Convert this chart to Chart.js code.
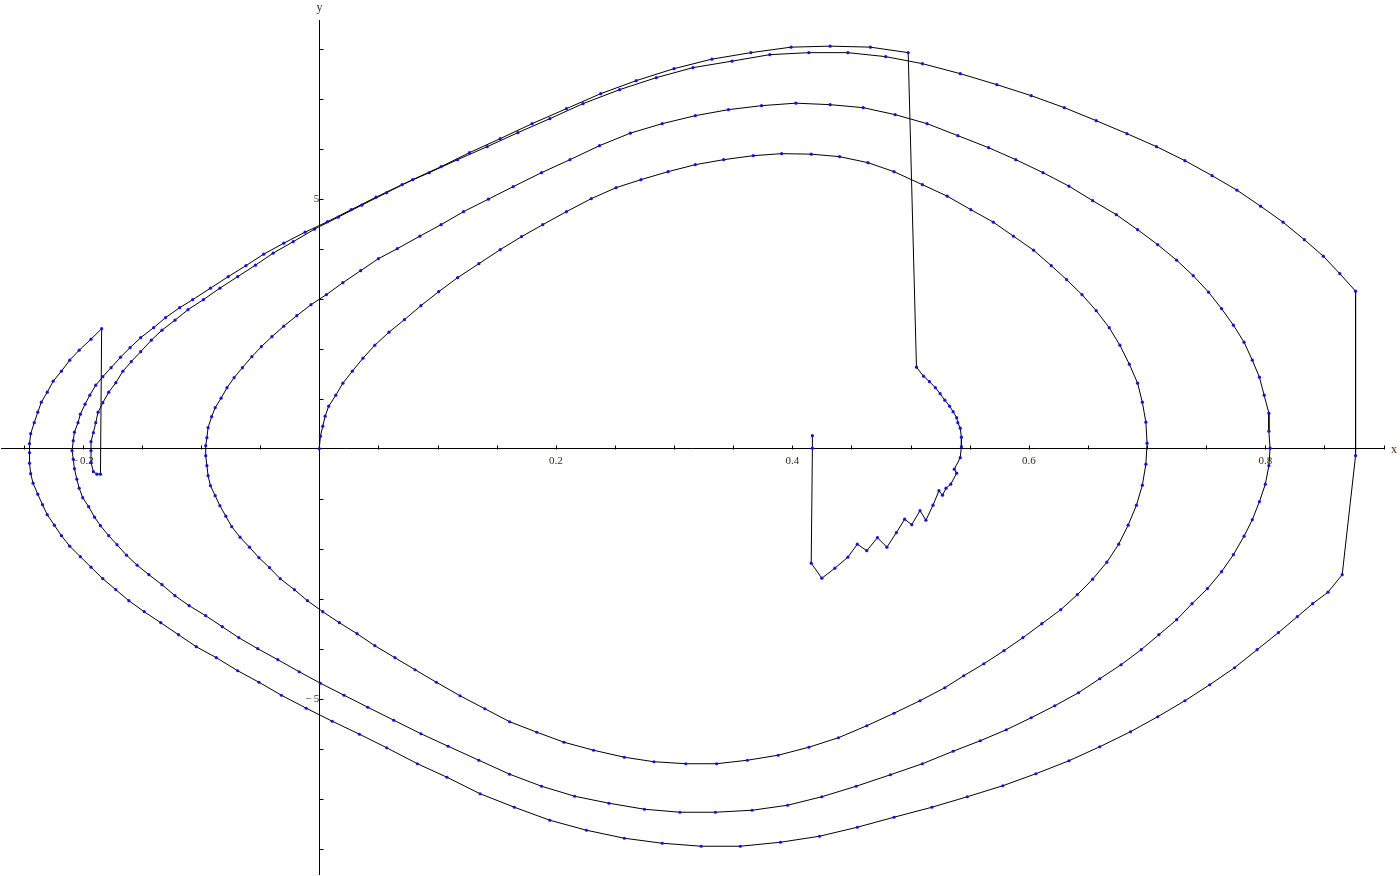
<!DOCTYPE html>
<html>
<head>
<meta charset="utf-8">
<script src="https://cdn.jsdelivr.net/npm/chart.js@4"></script>
<style>
  html, body { margin: 0; padding: 0; background: #fff; }
  canvas { display: block; }
</style>
</head>
<body>
<canvas id="chart" width="1400" height="876"></canvas>
<script>
// trajectory pieces [x, y], in the order they are traced
const innerLoop = [
  [0,0],[0.001,0.25],[0.003,0.45],[0.005,0.65],[0.008,0.85],[0.014,1.07],[0.020,1.31],[0.028,1.55],
  [0.037,1.81],[0.047,2.07],[0.059,2.33],[0.072,2.58],[0.086,2.86],[0.101,3.14],[0.117,3.42],[0.135,3.70],
  [0.153,3.98],[0.171,4.24],[0.189,4.48],[0.209,4.74],[0.230,5.00],[0.251,5.22],[0.272,5.38],[0.295,5.54],
  [0.318,5.68],[0.342,5.78],[0.367,5.86],[0.391,5.90],[0.416,5.89],[0.440,5.84],[0.464,5.72],[0.486,5.54],
  [0.510,5.28],[0.531,5.05],[0.551,4.78],[0.570,4.53],[0.587,4.25],[0.604,3.97],[0.619,3.66],[0.632,3.38],
  [0.645,3.08],[0.657,2.76],[0.668,2.42],[0.677,2.07],[0.685,1.69],[0.692,1.31],[0.696,0.93],[0.699,0.53],
  [0.700,0.11],[0.699,-0.31],[0.696,-0.73],[0.691,-1.13],[0.684,-1.53],[0.676,-1.91],[0.666,-2.27],[0.654,-2.61],
  [0.641,-2.92],[0.627,-3.22],[0.611,-3.50],[0.595,-3.78],[0.579,-4.04],[0.562,-4.30],[0.545,-4.54],[0.529,-4.78],
  [0.508,-5.04],[0.486,-5.29],[0.463,-5.54],[0.439,-5.78],[0.414,-5.97],[0.388,-6.13],[0.362,-6.23],[0.336,-6.30],
  [0.310,-6.30],[0.283,-6.26],[0.258,-6.17],[0.232,-6.03],[0.207,-5.87],[0.184,-5.67],[0.161,-5.46],[0.140,-5.20],
  [0.119,-4.94],[0.099,-4.67],[0.081,-4.42],[0.064,-4.18],[0.047,-3.94],[0.032,-3.70],[0.017,-3.48],[0.003,-3.26],
  [-0.010,-3.04],[-0.021,-2.82],[-0.033,-2.60],[-0.042,-2.38],[-0.051,-2.18],[-0.059,-1.97],[-0.067,-1.77],[-0.074,-1.56],
  [-0.079,-1.35],[-0.084,-1.14],[-0.088,-0.94],[-0.092,-0.74],[-0.094,-0.54],[-0.095,-0.34],[-0.096,-0.14]
];

const middleLoop = [
  [-0.096,0.06],[-0.095,0.22],[-0.094,0.42],[-0.091,0.64],[-0.088,0.82],[-0.083,1.01],[-0.078,1.22],[-0.072,1.42],
  [-0.065,1.62],[-0.057,1.84],[-0.049,2.04],[-0.040,2.24],[-0.030,2.45],[-0.019,2.66],[-0.007,2.88],[0.006,3.08],
  [0.020,3.32],[0.035,3.56],[0.050,3.80],[0.066,4.00],[0.085,4.25],[0.103,4.48],[0.122,4.74],[0.143,4.99],
  [0.164,5.24],[0.188,5.52],[0.212,5.78],[0.237,6.06],[0.263,6.31],[0.290,6.50],[0.318,6.66],[0.346,6.78],
  [0.374,6.86],[0.403,6.91],[0.432,6.88],[0.460,6.82],[0.487,6.68],[0.514,6.50],[0.540,6.26],[0.566,6.02],
  [0.589,5.78],[0.612,5.52],[0.634,5.25],[0.654,4.96],[0.674,4.68],[0.692,4.38],[0.709,4.08],[0.725,3.77],
  [0.739,3.46],[0.752,3.13],[0.763,2.80],[0.773,2.47],[0.782,2.13],[0.789,1.77],[0.795,1.43],[0.799,1.07],
  [0.803,0.71],[0.803,0.35],[0.804,0.01],[0.803,-0.34],[0.800,-0.71],[0.795,-1.06],[0.789,-1.42],[0.782,-1.75],
  [0.773,-2.12],[0.763,-2.46],[0.751,-2.80],[0.738,-3.10],[0.725,-3.42],[0.710,-3.72],[0.695,-4.02],[0.678,-4.32],
  [0.660,-4.60],[0.642,-4.88],[0.622,-5.14],[0.602,-5.38],[0.581,-5.62],[0.559,-5.84],[0.536,-6.05],[0.510,-6.30],
  [0.483,-6.52],[0.454,-6.75],[0.425,-6.96],[0.396,-7.13],[0.366,-7.23],[0.335,-7.27],[0.305,-7.27],[0.275,-7.21],
  [0.245,-7.09],[0.216,-6.95],[0.188,-6.75],[0.161,-6.51],[0.135,-6.23],[0.109,-5.95],[0.086,-5.70],[0.063,-5.43],
  [0.041,-5.17],[0.021,-4.93],[0.001,-4.69],[-0.017,-4.46],[-0.035,-4.22],[-0.052,-4.00],[-0.068,-3.78],[-0.082,-3.56],
  [-0.096,-3.34],[-0.110,-3.14],[-0.122,-2.94],[-0.133,-2.72],[-0.144,-2.52],[-0.154,-2.33],[-0.163,-2.13],[-0.171,-1.92],
  [-0.178,-1.74],[-0.185,-1.54],[-0.190,-1.37],[-0.195,-1.16],[-0.200,-0.98],[-0.203,-0.79],[-0.205,-0.61],[-0.207,-0.40],
  [-0.208,-0.21],[-0.209,-0.04]
];

const outerSweep = [
  [-0.208,0.16],[-0.207,0.33],[-0.204,0.52],[-0.202,0.69],[-0.198,0.89],[-0.194,1.07],[-0.189,1.27],[-0.183,1.44],
  [-0.176,1.62],[-0.168,1.83],[-0.160,2.02],[-0.151,2.22],[-0.140,2.42],[-0.130,2.62],[-0.118,2.82],[-0.107,2.98],
  [-0.092,3.21],[-0.077,3.44],[-0.062,3.66],[-0.047,3.89],[-0.030,4.11],[-0.012,4.33],[0.007,4.54],[0.027,4.78],
  [0.048,5.03],[0.070,5.28],[0.093,5.52],[0.117,5.78],[0.142,6.04],[0.168,6.32],[0.195,6.60],[0.223,6.90],
  [0.254,7.18],[0.285,7.42],[0.316,7.62],[0.349,7.75],[0.381,7.88],[0.414,7.92],[0.447,7.92],[0.479,7.84],
  [0.510,7.70],[0.542,7.50],[0.573,7.28],[0.602,7.06],[0.630,6.82],[0.657,6.56],[0.683,6.30],[0.708,6.04],
  [0.732,5.76],[0.755,5.46],[0.776,5.17],[0.796,4.85],[0.815,4.53],[0.833,4.18],[0.849,3.85],[0.863,3.50],
  [0.8763,3.15],[0.8763,-0.14],[0.865,-2.52],[0.853,-2.87],[0.840,-3.10],[0.827,-3.36],[0.811,-3.68],[0.793,-4.02],
  [0.774,-4.38],[0.753,-4.72],[0.732,-5.04],[0.709,-5.36],[0.686,-5.66],[0.660,-5.96],[0.634,-6.24],[0.606,-6.50],
  [0.578,-6.74],[0.548,-6.96],[0.518,-7.17],[0.486,-7.37],[0.455,-7.57],[0.423,-7.75],[0.390,-7.87],[0.356,-7.95],
  [0.323,-7.95],[0.290,-7.89],[0.258,-7.79],[0.226,-7.63],[0.195,-7.43],[0.165,-7.17],[0.136,-6.90],[0.108,-6.57],
  [0.083,-6.30],[0.057,-5.98],[0.034,-5.71],[0.011,-5.45],[-0.011,-5.19],[-0.032,-4.93],[-0.051,-4.67],[-0.069,-4.44],
  [-0.087,-4.18],[-0.104,-3.96],[-0.119,-3.72],[-0.134,-3.48],[-0.148,-3.26],[-0.161,-3.04],[-0.172,-2.82],[-0.183,-2.60],
  [-0.193,-2.37],[-0.202,-2.16],[-0.211,-1.95],[-0.218,-1.74],[-0.224,-1.53],[-0.230,-1.32],[-0.234,-1.12],[-0.238,-0.91],
  [-0.242,-0.69],[-0.244,-0.50],[-0.245,-0.29],[-0.245,-0.08],[-0.245,0.10],[-0.244,0.30],[-0.241,0.52],[-0.238,0.73],
  [-0.235,0.93],[-0.230,1.13],[-0.225,1.35],[-0.218,1.55],[-0.211,1.77],[-0.203,1.97],[-0.193,2.19],[-0.184,2.40]
];

const leftHook = [[-0.185,-0.51],[-0.188,-0.51],[-0.191,-0.46],[-0.193,-0.27]];

const finalRise = [
  [-0.193,-0.04],[-0.193,0.14],[-0.191,0.32],[-0.189,0.52],[-0.187,0.73],[-0.183,0.92],[-0.178,1.13],[-0.172,1.32],
  [-0.166,1.55],[-0.159,1.74],[-0.151,1.94],[-0.142,2.17],[-0.133,2.37],[-0.122,2.57],[-0.111,2.78],[-0.098,2.98],
  [-0.084,3.21],[-0.069,3.44],[-0.054,3.67],[-0.039,3.91],[-0.022,4.14],[-0.004,4.39],[0.016,4.63],[0.036,4.87],
  [0.057,5.12],[0.079,5.38],[0.103,5.64],[0.127,5.92],[0.153,6.20],[0.180,6.50],[0.209,6.80],[0.238,7.10],
  [0.268,7.36],[0.300,7.60],[0.332,7.79],[0.365,7.92],[0.399,8.03],[0.432,8.05],[0.466,8.03],[0.498,7.92]
];

const tailSpiral = [
  [0.505,1.63],[0.511,1.45],[0.516,1.34],[0.521,1.22],[0.525,1.10],[0.529,0.97],[0.533,0.85],[0.536,0.74],
  [0.539,0.62],[0.540,0.52],[0.542,0.41],[0.543,0.23],[0.543,0.04],[0.542,-0.18],[0.537,-0.41],[0.539,-0.49],
  [0.534,-0.71],[0.530,-0.79],[0.527,-0.93],[0.524,-0.84],[0.519,-1.13],[0.513,-1.43],[0.508,-1.24],[0.501,-1.52],
  [0.495,-1.41],[0.488,-1.68],[0.480,-1.97],[0.472,-1.78],[0.463,-2.04],[0.455,-1.91],[0.447,-2.17],[0.436,-2.39],
  [0.425,-2.59],[0.416,-2.29],[0.417,0.01],[0.417,0.26]
];

const xLabelTicks = [-0.2, 0.2, 0.4, 0.6, 0.8];
const yLabelTicks = [-5, 5];
const xMinorStep = 0.05;
const yMinorStep = 1;

const path = innerLoop.concat(middleLoop, outerSweep, leftHook, finalRise, tailSpiral)
  .map(p => ({ x: p[0], y: p[1] }));

const labelColor = '#3a2a1c';
const labelFont = { family: '"Liberation Serif", "Times New Roman", serif', size: 11 };

function fmt(v) {
  return v < 0 ? '\u2212\u2009' + Math.abs(v) : String(v);
}

// small tick marks on the inner side of each axis, plus the axis names
const axisMarks = {
  id: 'axisMarks',
  afterDraw(chart) {
    const { ctx, scales: { x, y } } = chart;
    const x0 = Math.round(x.getPixelForValue(0)) + 0.5;
    const y0 = Math.round(y.getPixelForValue(0)) + 0.5;
    ctx.save();
    ctx.strokeStyle = '#000';
    ctx.lineWidth = 1;
    ctx.beginPath();
    for (let i = -5; i <= 18; i++) {
      if (i === 0) continue;
      const px = Math.round(x.getPixelForValue(i * xMinorStep)) + 0.5;
      ctx.moveTo(px, y0);
      ctx.lineTo(px, y0 - 4);
    }
    for (let j = -8; j <= 8; j++) {
      if (j === 0) continue;
      const py = Math.round(y.getPixelForValue(j * yMinorStep)) + 0.5;
      ctx.moveTo(x0, py);
      ctx.lineTo(x0 + 4, py);
    }
    ctx.stroke();
    ctx.fillStyle = labelColor;
    ctx.font = '12px ' + labelFont.family;
    ctx.textBaseline = 'middle';
    ctx.textAlign = 'left';
    ctx.fillText('x', x.right + 8, y0);
    ctx.textAlign = 'center';
    ctx.fillText('y', x0, y.top - 12);
    ctx.restore();
  }
};

new Chart(document.getElementById('chart'), {
  type: 'scatter',
  data: {
    datasets: [{
      data: path,
      showLine: true,
      borderColor: '#000',
      borderWidth: 1,
      pointRadius: 1.6,
      pointBackgroundColor: '#1010e8',
      pointBorderWidth: 0,
      pointHoverRadius: 0
    }]
  },
  options: {
    responsive: false,
    animation: false,
    layout: { padding: { top: 20, right: 17, bottom: 0, left: 0 } },
    plugins: { legend: { display: false }, tooltip: { enabled: false } },
    scales: {
      x: {
        type: 'linear',
        min: -0.2686,
        max: 0.8995,
        position: { y: 0 },
        afterBuildTicks: s => { s.ticks = xLabelTicks.map(v => ({ value: v })); },
        afterFit: s => { s.paddingLeft = 0; s.paddingRight = 0; },
        grid: { drawOnChartArea: false, drawTicks: true, tickLength: 4, color: 'rgba(0,0,0,0)' },
        border: { display: true, color: '#000', width: 1 },
        ticks: { autoSkip: false, maxRotation: 0, padding: 2, color: labelColor, font: labelFont, callback: fmt }
      },
      y: {
        type: 'linear',
        min: -8.513,
        max: 8.573,
        position: { x: 0 },
        afterBuildTicks: s => { s.ticks = yLabelTicks.map(v => ({ value: v })); },
        afterFit: s => { s.paddingTop = 0; s.paddingBottom = 0; },
        grid: { drawOnChartArea: false, drawTicks: true, tickLength: 3, color: 'rgba(0,0,0,0)' },
        border: { display: true, color: '#000', width: 1 },
        ticks: { autoSkip: false, padding: 2, color: labelColor, font: labelFont, callback: fmt }
      }
    }
  },
  plugins: [axisMarks]
});
</script>
</body>
</html>
